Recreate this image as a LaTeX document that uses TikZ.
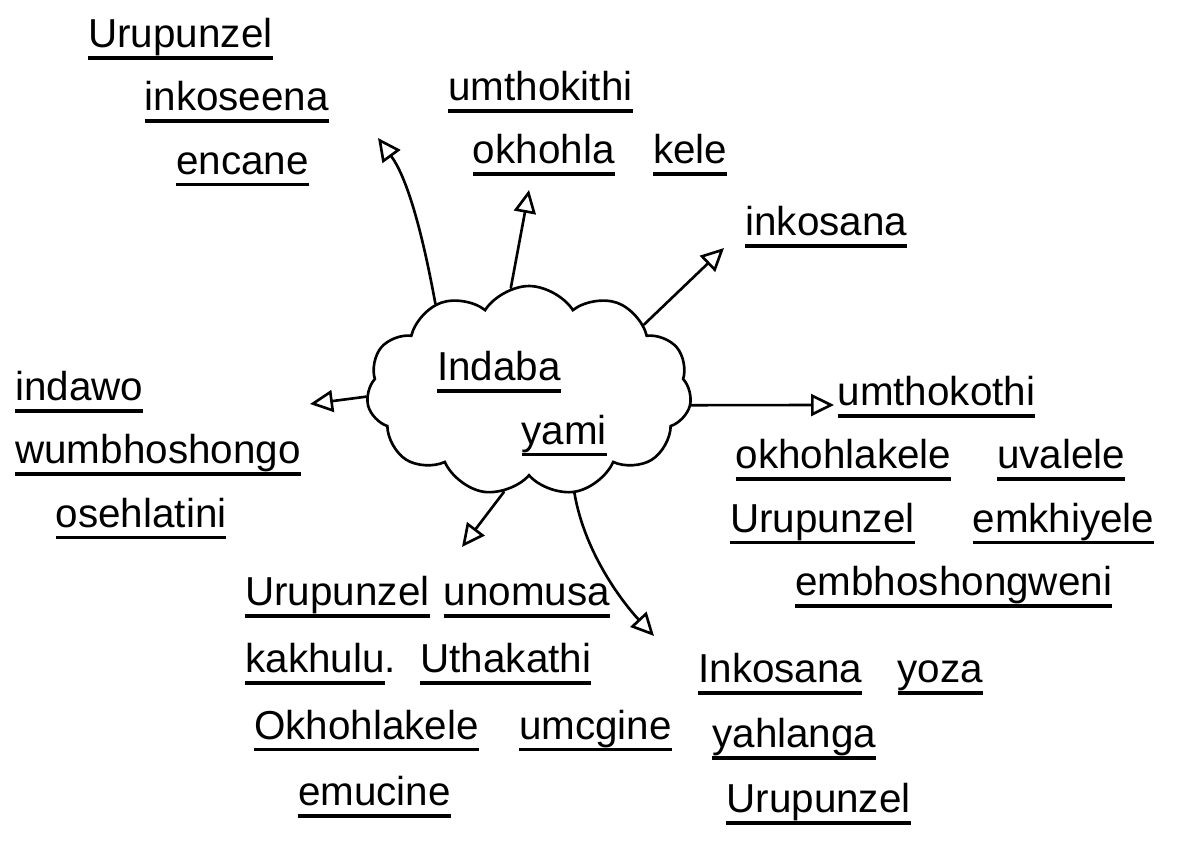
\documentclass[tikz,border=0pt]{standalone}
\usepackage{fontspec}
\setmainfont{Liberation Sans}
\usetikzlibrary{arrows.meta,shapes.symbols}
\newcommand{\uword}[1]{\setbox0\hbox{#1}\rlap{\rule[-7pt]{\wd0}{2.2pt}}\box0}

\begin{document}
\begin{tikzpicture}[x=0.02cm, y=-0.02cm, every node/.style={font=\fontsize{23}{36}\selectfont,inner sep=0pt}, grp/.style={anchor=north west,align=left}, cloudbox/.style={draw,cloud,cloud puffs=11,cloud puff arc=115,cloud ignores aspect,minimum width=6.5cm,minimum height=4.2cm,line width=1.5pt}, arr/.style={-{Triangle[open,length=4.6mm,width=4.4mm,line width=1.5pt]},line width=1.5pt,line cap=round}]
\useasboundingbox (0,0) rectangle (1185,841);
% centre
\node[cloudbox] (indaba) at (529,391) {};
\node[align=left] (title) at (522,404) {\uword{Indaba}\\\hspace*{48pt}\uword{yami}};
% branches
\node[grp] (rapunzel) at (88,18) {\uword{Urupunzel}\\\hspace*{32pt}\uword{inkoseena}\\\hspace*{50pt}\uword{encane}};
\node[grp] (thakathi) at (448,71) {\uword{umthokithi}\\\hspace*{14pt}\uword{okhohla}\hspace{22pt}\uword{kele}};
\node[grp] (inkosana) at (745,206) {\uword{inkosana}};
\node[grp] (indawo) at (15,371) {\uword{indawo}\\\uword{wumbhoshongo}\\\hspace*{23pt}\uword{osehlatini}};
\node[grp] (valele) at (730,376) {\hspace*{61pt}\uword{umthokothi}\\\hspace*{3pt}\uword{okhohlakele}\hspace{26pt}\uword{uvalele}\\\uword{Urupunzel}\hspace{33pt}\uword{emkhiyele}\\\hspace*{37pt}\uword{embhoshongweni}};
\node[grp,font=\fontsize{23}{38}\selectfont] (unomusa) at (245,576) {\uword{Urupunzel}\hspace{8pt}\uword{unomusa}\\\uword{kakhulu}.\hspace{14pt}\uword{Uthakathi}\\\hspace*{5pt}\uword{Okhohlakele}\hspace{23pt}\uword{umcgine}\\\hspace*{30pt}\uword{emucine}};
\node[grp,font=\fontsize{23}{37}\selectfont] (yoza) at (698,653) {\uword{Inkosana}\hspace{20pt}\uword{yoza}\\\hspace*{8pt}\uword{yahlanga}\\\hspace*{16pt}\uword{Urupunzel}};
% arrow tips
\coordinate (rapunzelTip) at (378,138);
\coordinate (thakathiTip) at (529,190);
\coordinate (inkosanaTip) at (724,248);
\coordinate (indawoTip) at (310,404);
\coordinate (valeleTip) at (834,405);
\coordinate (unomusaTip) at (462,547);
\coordinate (yozaTip) at (654,636);
\draw[arr] (indaba.137) .. controls (420,220) and (405,175) .. (rapunzelTip);
\draw[arr] (indaba.100) .. controls (518,250) .. (thakathiTip);
\draw[arr] (indaba.30) -- (inkosanaTip);
\draw[arr] (indaba.182) -- (indawoTip);
\draw[arr] (indaba.-5) -- (valeleTip);
\draw[arr] (indaba.256) -- (unomusaTip);
\draw[arr] (indaba.294) .. controls (585,555) and (625,605) .. (yozaTip);
\end{tikzpicture}
\end{document}
